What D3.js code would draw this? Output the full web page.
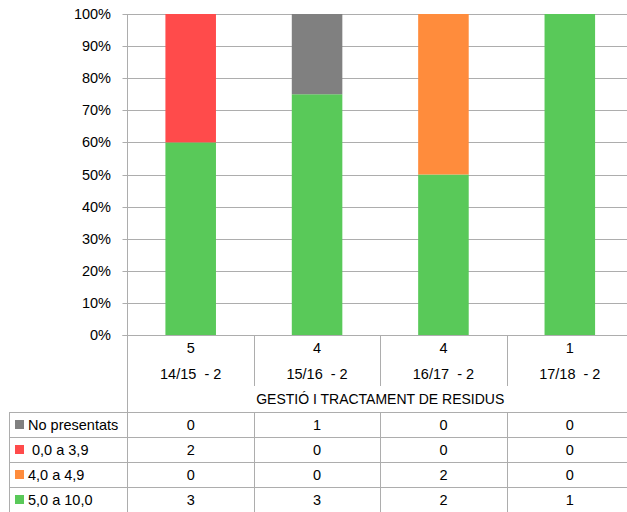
<!DOCTYPE html>
<html><head><meta charset="utf-8">
<script src="https://cdn.jsdelivr.net/npm/d3@7"></script>
<style>body{margin:0;background:#fff}svg{display:block}text{font-family:"Liberation Sans",Arial,sans-serif;fill:#000;white-space:pre}</style>
</head><body><svg id="c" width="627" height="512"></svg>
<script>
const categories = ["14/15  - 2","15/16  - 2","16/17  - 2","17/18  - 2"];
const totals = [5,4,4,1];
const title = "GESTIÓ I TRACTAMENT DE RESIDUS";
const seriesNames = ["No presentats"," 0,0 a 3,9","4,0 a 4,9","5,0 a 10,0"];
const seriesColors = ["#808080","#FF4B4B","#FF8C3C","#59C959"];
const noPresentats = [0,1,0,0];
const s0to39 = [2,0,0,0];
const s40to49 = [0,0,2,0];
const s50to100 = [3,3,2,1];
const yTicks = [0,0.1,0.2,0.3,0.4,0.5,0.6,0.7,0.8,0.9,1];

const seriesVals = [noPresentats, s0to39, s40to49, s50to100];
const svg = d3.select("#c");
const L=127.5, R=633, T=14, B=335;
const x = d3.scaleBand().domain(categories).range([L,R]).paddingInner(0.6).paddingOuter(0.3);
const xc = d3.scaleBand().domain(categories).range([L,R]);
const y = d3.scaleLinear().domain([0,1]).range([B,T]);
const grid="#ADADAD";
const fs=14.5;

// gridlines
svg.append("g").selectAll("line").data(yTicks).join("line")
  .attr("x1",L-5).attr("x2",R).attr("y1",d=>Math.round(y(d))+0.5).attr("y2",d=>Math.round(y(d))+0.5)
  .attr("stroke",grid).attr("stroke-width",1);
svg.append("g").selectAll("text").data(yTicks).join("text")
  .attr("x",111).attr("y",d=>y(d)).attr("dy","0.35em").attr("text-anchor","end")
  .attr("font-size",fs).text(d=>d3.format(".0%")(d));

// stacked bars (bottom = last series)
const rows = categories.map((c,i)=>{const o={cat:c}; seriesNames.forEach((s,j)=>o[s]=seriesVals[j][i]/totals[i]); return o;});
const order = seriesNames.slice().reverse();
const stack = d3.stack().keys(order)(rows);
svg.append("g").selectAll("g").data(stack).join("g")
  .attr("fill",d=>seriesColors[seriesNames.indexOf(d.key)])
  .selectAll("rect").data(d=>d).join("rect")
  .attr("x",d=>x(d.data.cat)).attr("width",x.bandwidth())
  .attr("y",d=>y(d[1])).attr("height",d=>y(d[0])-y(d[1]));

// axis vertical line
svg.append("line").attr("x1",L).attr("x2",L).attr("y1",T).attr("y2",512).attr("stroke",grid);
svg.append("line").attr("x1",L-5).attr("x2",R).attr("y1",B+0.5).attr("y2",B+0.5).attr("stroke",grid);

// category label area
const dividers = categories.map(c=>xc(c)+xc.bandwidth()).slice(0,-1);
svg.append("g").selectAll("line").data(dividers).join("line")
  .attr("x1",d=>Math.round(d)+0.5).attr("x2",d=>Math.round(d)+0.5).attr("y1",B).attr("y2",386).attr("stroke",grid);
svg.append("g").selectAll("text").data(categories).join("text")
  .attr("x",d=>xc(d)+xc.bandwidth()/2).attr("y",348).attr("dy","0.35em").attr("text-anchor","middle")
  .attr("font-size",fs).text((d,i)=>totals[i]);
svg.append("g").selectAll("text").data(categories).join("text")
  .attr("x",d=>xc(d)+xc.bandwidth()/2).attr("y",374).attr("dy","0.35em").attr("text-anchor","middle")
  .attr("xml:space","preserve").attr("font-size",fs).text(d=>d);
svg.append("text").attr("x",(L+R)/2).attr("y",399).attr("dy","0.35em").attr("text-anchor","middle")
  .attr("font-size",14).text(title);

// data table
const rowY = [412,437,462,487,512];
svg.append("g").selectAll("line").data(rowY.slice(0,4)).join("line")
  .attr("x1",9.5).attr("x2",R).attr("y1",d=>d+0.5).attr("y2",d=>d+0.5).attr("stroke",grid);
svg.append("line").attr("x1",9.5).attr("x2",9.5).attr("y1",412).attr("y2",512).attr("stroke",grid);
svg.append("g").selectAll("line").data(dividers).join("line")
  .attr("x1",d=>Math.round(d)+0.5).attr("x2",d=>Math.round(d)+0.5).attr("y1",412).attr("y2",512).attr("stroke",grid);
seriesNames.forEach((s,j)=>{
  const cy = rowY[j]+12.5;
  svg.append("rect").attr("x",15).attr("y",cy-4.5).attr("width",9).attr("height",9).attr("fill",seriesColors[j]);
  svg.append("text").attr("x",28).attr("y",cy).attr("dy","0.35em").attr("font-size",fs).attr("xml:space","preserve").text(s);
  svg.append("g").selectAll("text").data(categories).join("text")
    .attr("x",d=>xc(d)+xc.bandwidth()/2).attr("y",cy).attr("dy","0.35em").attr("text-anchor","middle")
    .attr("font-size",fs).text((d,i)=>seriesVals[j][i]);
});
</script></body></html>
